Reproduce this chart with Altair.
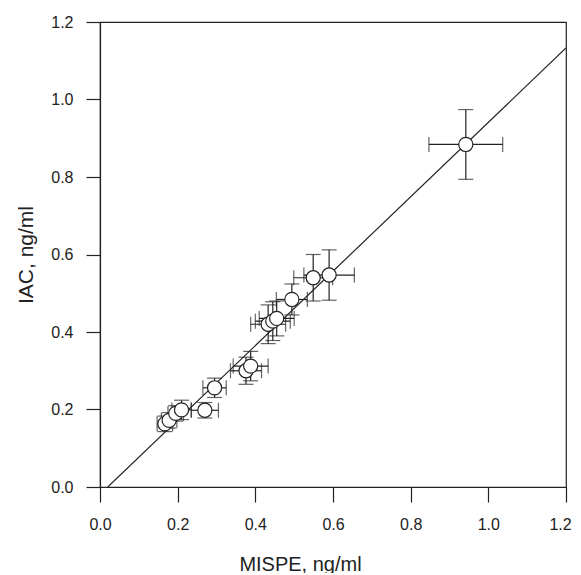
import altair as alt
import pandas as pd

# MISPE (x) vs IAC (y), ng/ml, with standard deviations
mispe = [0.167, 0.178, 0.195, 0.210, 0.270, 0.295, 0.376, 0.388, 0.433, 0.445, 0.455, 0.494, 0.549, 0.590, 0.942]
iac = [0.163, 0.172, 0.190, 0.199, 0.198, 0.256, 0.300, 0.312, 0.420, 0.428, 0.435, 0.484, 0.540, 0.547, 0.884]
mispe_sd = [0.020, 0.020, 0.020, 0.025, 0.035, 0.030, 0.040, 0.045, 0.045, 0.045, 0.045, 0.040, 0.050, 0.065, 0.095]
iac_sd = [0.020, 0.020, 0.020, 0.025, 0.020, 0.025, 0.035, 0.038, 0.050, 0.050, 0.045, 0.040, 0.060, 0.065, 0.090]

# regression line end points
line_x = [0.02, 1.2]
line_y = [0.0, 1.133]

df = pd.DataFrame({"x": mispe, "y": iac, "xsd": mispe_sd, "ysd": iac_sd})
df["xlo"] = df["x"] - df["xsd"]
df["xhi"] = df["x"] + df["xsd"]
df["ylo"] = df["y"] - df["ysd"]
df["yhi"] = df["y"] + df["ysd"]
line_df = pd.DataFrame({"x": line_x, "y": line_y})

FONT = "Liberation Sans"
INK = "#222222"

xscale = alt.Scale(domain=[0, 1.2], nice=False, zero=False)
yscale = alt.Scale(domain=[0, 1.2], nice=False, zero=False)
ticks = [0.0, 0.2, 0.4, 0.6, 0.8, 1.0, 1.2]

xaxis = alt.Axis(title="MISPE, ng/ml", values=ticks, format=".1f", grid=False,
                 tickSize=15, labelPadding=14, labelFlush=False, labelOverlap=False,
                 labelOffset={"condition": {"test": "datum.value > 1.1", "value": -6}, "value": 0},
                 titleX=200, titleY=83, titleAlign="center", titleBaseline="alphabetic",
                 titleFontSize=20)
yaxis = alt.Axis(title="IAC, ng/ml", values=ticks, format=".1f", grid=False,
                 tickSize=14, labelPadding=13, labelFlush=False, labelOverlap=False,
                 titlePadding=14, titleFontSize=21)

base = alt.Chart(df)

reg = alt.Chart(line_df).mark_line(color=INK, strokeWidth=1.2, clip=True).encode(
    x=alt.X("x:Q", scale=xscale, axis=xaxis),
    y=alt.Y("y:Q", scale=yscale, axis=yaxis),
)

xbar = base.mark_rule(color=INK, strokeWidth=1.2).encode(
    x=alt.X("xlo:Q", scale=xscale), x2="xhi:Q", y=alt.Y("y:Q", scale=yscale)
)
ybar = base.mark_rule(color=INK, strokeWidth=1.2).encode(
    x=alt.X("x:Q", scale=xscale), y=alt.Y("ylo:Q", scale=yscale), y2="yhi:Q"
)
cap_xlo = base.mark_tick(color=INK, thickness=1.2, size=15, orient="vertical").encode(
    x=alt.X("xlo:Q", scale=xscale), y=alt.Y("y:Q", scale=yscale)
)
cap_xhi = base.mark_tick(color=INK, thickness=1.2, size=15, orient="vertical").encode(
    x=alt.X("xhi:Q", scale=xscale), y=alt.Y("y:Q", scale=yscale)
)
cap_ylo = base.mark_tick(color=INK, thickness=1.2, size=15, orient="horizontal").encode(
    x=alt.X("x:Q", scale=xscale), y=alt.Y("ylo:Q", scale=yscale)
)
cap_yhi = base.mark_tick(color=INK, thickness=1.2, size=15, orient="horizontal").encode(
    x=alt.X("x:Q", scale=xscale), y=alt.Y("yhi:Q", scale=yscale)
)
pts = base.mark_point(shape="circle", filled=False, fill="white", fillOpacity=1,
                      stroke=INK, strokeWidth=1.2, size=200, opacity=1).encode(
    x=alt.X("x:Q", scale=xscale), y=alt.Y("y:Q", scale=yscale)
)

chart = alt.layer(reg, xbar, ybar, cap_xlo, cap_xhi, cap_ylo, cap_yhi, pts).properties(
    width=466, height=465,
    autosize=alt.AutoSizeParams(type="none"),
    padding={"left": 92, "top": 14, "right": 7, "bottom": 86},
    background="white",
).configure_view(stroke=INK, strokeWidth=1.2).configure_axis(
    domainColor=INK, tickColor=INK, domainWidth=1.2, tickWidth=1.2,
    labelFont=FONT, titleFont=FONT, labelFontSize=16,
    labelColor=INK, titleColor=INK, titleFontWeight="normal",
)

chart.save("out.html", embed_options={"renderer": "svg", "actions": False})
